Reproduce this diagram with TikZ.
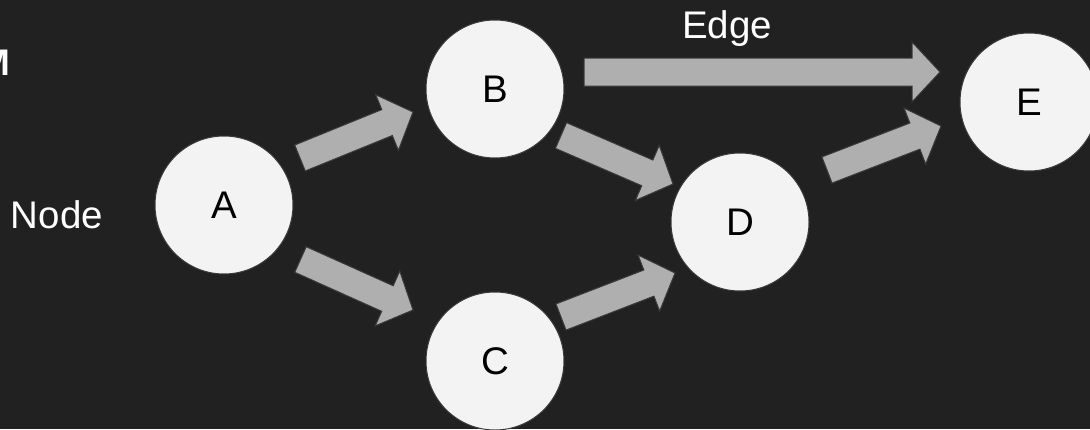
\documentclass[tikz,border=0pt]{standalone}
\usepackage{fontspec}
\setmainfont{Liberation Sans}
\usetikzlibrary{calc}

\definecolor{canvas}{HTML}{212121}
\definecolor{disc}{HTML}{F3F3F3}
\definecolor{shaft}{HTML}{AFAFAF}
\definecolor{rim}{HTML}{3A3A3A}

\tikzset{
  vertex/.style={circle, fill=disc, draw=rim, line width=1pt,
    minimum size=138pt, inner sep=0pt, text=black,
    font=\fontsize{38.5}{42}\selectfont},
  caption/.style={text=white, inner sep=0pt, anchor=base,
    font=\fontsize{38.5}{42}\selectfont},
  fatarrow/.style={fill=shaft, draw=rim, line width=1pt, line join=miter},
}

% wide block arrow from #1 (tail middle) to #2 (tip)
\newcommand\bigarrow[2]{%
  \coordinate (hb) at ($(#2)!28pt!(#1)$);
  \path[fatarrow] ($(#1)!14pt!90:(#2)$) -- ($(hb)!14pt!-90:(#1)$)
    -- ($(hb)!30pt!-90:(#1)$) -- (#2) -- ($(hb)!30pt!90:(#1)$)
    -- ($(hb)!14pt!90:(#1)$) -- ($(#1)!14pt!-90:(#2)$) -- cycle;
}

\begin{document}
\begin{tikzpicture}[x=1pt, y=-1pt]
  \fill[canvas] (0,0) rectangle (1090,429);
  \useasboundingbox (0,0) rectangle (1090,429);

  % heading, running off the left edge
  \node[text=white, inner sep=0pt, anchor=base east,
        font=\fontsize{37}{40}\selectfont\bfseries] (head) at (10.7,75) {M};

  % graph vertices
  \node[vertex] (A) at (224,205) {A};
  \node[vertex] (B) at (495,89)  {B};
  \node[vertex] (C) at (495,361) {C};
  \node[vertex] (D) at (740,222) {D};
  \node[vertex] (E) at (1029,102) {E};

  % labels
  \node[caption] (nodetxt) at (57,228) {Node};
  \node[caption] (edgetxt) at (727,38) {Edge};

  % arrow end points beside the vertices
  \coordinate (ab1) at ($(A)+(76,-47)$);   \coordinate (ab2) at ($(B)+(-82,23)$);
  \coordinate (ac1) at ($(A)+(76.5,54.5)$); \coordinate (ac2) at ($(C)+(-82,-51)$);
  \coordinate (bd1) at ($(B)+(66,46.5)$);  \coordinate (bd2) at ($(D)+(-67,-38)$);
  \coordinate (be1) at ($(B)+(89,-17)$);   \coordinate (be2) at ($(E)+(-89,-30)$);
  \coordinate (cd1) at ($(C)+(66,-44)$);   \coordinate (cd2) at ($(D)+(-65,51)$);
  \coordinate (de1) at ($(D)+(87,-52)$);   \coordinate (de2) at ($(E)+(-88,24)$);

  % edges
  \bigarrow{ab1}{ab2}
  \bigarrow{ac1}{ac2}
  \bigarrow{bd1}{bd2}
  \bigarrow{be1}{be2}
  \bigarrow{cd1}{cd2}
  \bigarrow{de1}{de2}
\end{tikzpicture}
\end{document}
